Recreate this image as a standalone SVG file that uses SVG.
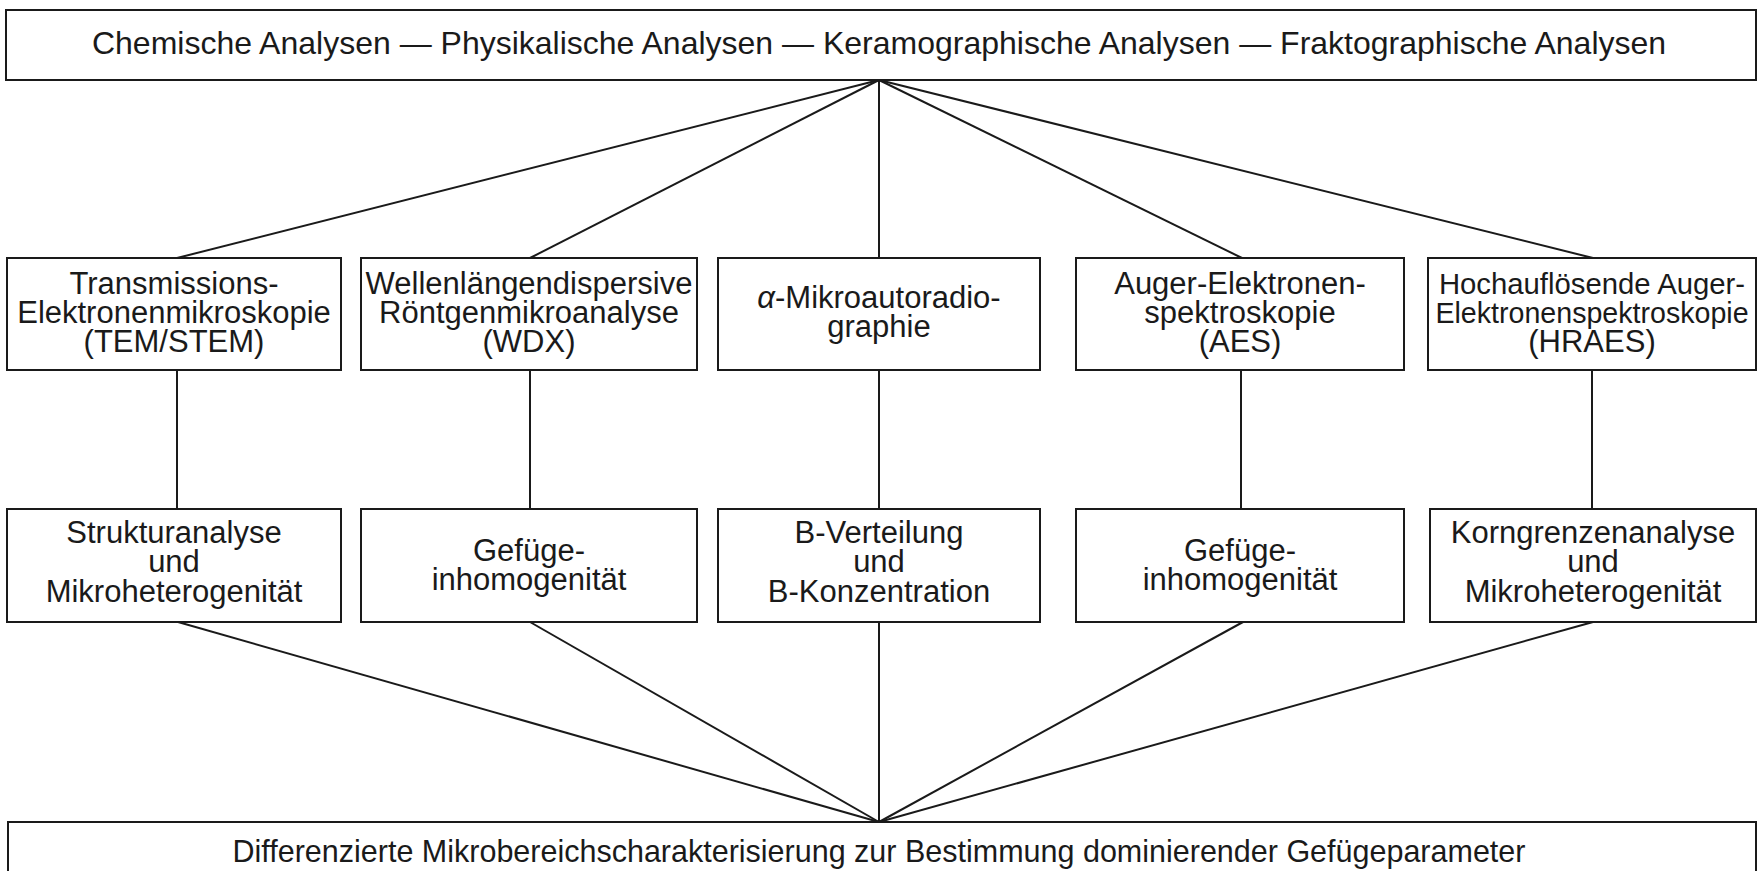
<svg xmlns="http://www.w3.org/2000/svg" width="1758" height="871" viewBox="0 0 1758 871">
<style>
.box{fill:#fff;stroke:#1a1a1a;stroke-width:2}
.t{font-family:"Liberation Sans",Arial,Helvetica,sans-serif;font-size:31px;fill:#1a1a1a;text-anchor:middle}
.c line{stroke:#1a1a1a;stroke-width:2}
</style>
<rect width="1758" height="871" fill="#fff"/>
<g class="c" id="connectors">
<line x1="879" y1="80" x2="177" y2="258"/>
<line x1="879" y1="80" x2="530" y2="258"/>
<line x1="879" y1="80" x2="879" y2="258"/>
<line x1="879" y1="80" x2="1242" y2="258"/>
<line x1="879" y1="80" x2="1593" y2="258"/>
<line x1="177" y1="370" x2="177" y2="509"/>
<line x1="530" y1="370" x2="530" y2="509"/>
<line x1="879" y1="370" x2="879" y2="509"/>
<line x1="1241" y1="370" x2="1241" y2="509"/>
<line x1="1592" y1="370" x2="1592" y2="509"/>
<line x1="178" y1="622" x2="879" y2="822"/>
<line x1="530" y1="622" x2="879" y2="822"/>
<line x1="879" y1="622" x2="879" y2="822"/>
<line x1="1243" y1="622" x2="879" y2="822"/>
<line x1="1593" y1="622" x2="879" y2="822"/>
</g>
<g id="top">
<rect class="box" x="6" y="10" width="1750" height="70"/>
<text class="t" x="879" y="54" style="font-size:32px">Chemische Analysen — Physikalische Analysen — Keramographische Analysen — Fraktographische Analysen</text>
</g>
<g id="m1">
<rect class="box" x="7" y="258" width="334" height="112"/>
<text class="t" x="174" y="294">Transmissions-</text>
<text class="t" x="174" y="323">Elektronenmikroskopie</text>
<text class="t" x="174" y="352">(TEM/STEM)</text>
</g>
<g id="m2">
<rect class="box" x="361" y="258" width="336" height="112"/>
<text class="t" x="529" y="294">Wellenlängendispersive</text>
<text class="t" x="529" y="323">Röntgenmikroanalyse</text>
<text class="t" x="529" y="352">(WDX)</text>
</g>
<g id="m3">
<rect class="box" x="718" y="258" width="322" height="112"/>
<text class="t" x="879" y="308"><tspan font-style="italic">α</tspan>-Mikroautoradio-</text>
<text class="t" x="879" y="337">graphie</text>
</g>
<g id="m4">
<rect class="box" x="1076" y="258" width="328" height="112"/>
<text class="t" x="1240" y="294">Auger-Elektronen-</text>
<text class="t" x="1240" y="323">spektroskopie</text>
<text class="t" x="1240" y="352">(AES)</text>
</g>
<g id="m5">
<rect class="box" x="1428" y="258" width="328" height="112"/>
<text class="t" x="1592" y="294" style="font-size:29.3px">Hochauflösende Auger-</text>
<text class="t" x="1592" y="323" style="font-size:28.6px">Elektronenspektroskopie</text>
<text class="t" x="1592" y="352">(HRAES)</text>
</g>
<g id="l1">
<rect class="box" x="7" y="509" width="334" height="113"/>
<text class="t" x="174" y="543">Strukturanalyse</text>
<text class="t" x="174" y="572">und</text>
<text class="t" x="174" y="602">Mikroheterogenität</text>
</g>
<g id="l2">
<rect class="box" x="361" y="509" width="336" height="113"/>
<text class="t" x="529" y="561">Gefüge-</text>
<text class="t" x="529" y="590">inhomogenität</text>
</g>
<g id="l3">
<rect class="box" x="718" y="509" width="322" height="113"/>
<text class="t" x="879" y="543">B-Verteilung</text>
<text class="t" x="879" y="572">und</text>
<text class="t" x="879" y="602">B-Konzentration</text>
</g>
<g id="l4">
<rect class="box" x="1076" y="509" width="328" height="113"/>
<text class="t" x="1240" y="561">Gefüge-</text>
<text class="t" x="1240" y="590">inhomogenität</text>
</g>
<g id="l5">
<rect class="box" x="1430" y="509" width="326" height="113"/>
<text class="t" x="1593" y="543">Korngrenzenanalyse</text>
<text class="t" x="1593" y="572">und</text>
<text class="t" x="1593" y="602">Mikroheterogenität</text>
</g>
<g id="bottom">
<rect class="box" x="8" y="822" width="1748" height="80"/>
<text class="t" x="879" y="862" style="font-size:30.5px">Differenzierte Mikrobereichscharakterisierung zur Bestimmung dominierender Gefügeparameter</text>
</g>
</svg>
